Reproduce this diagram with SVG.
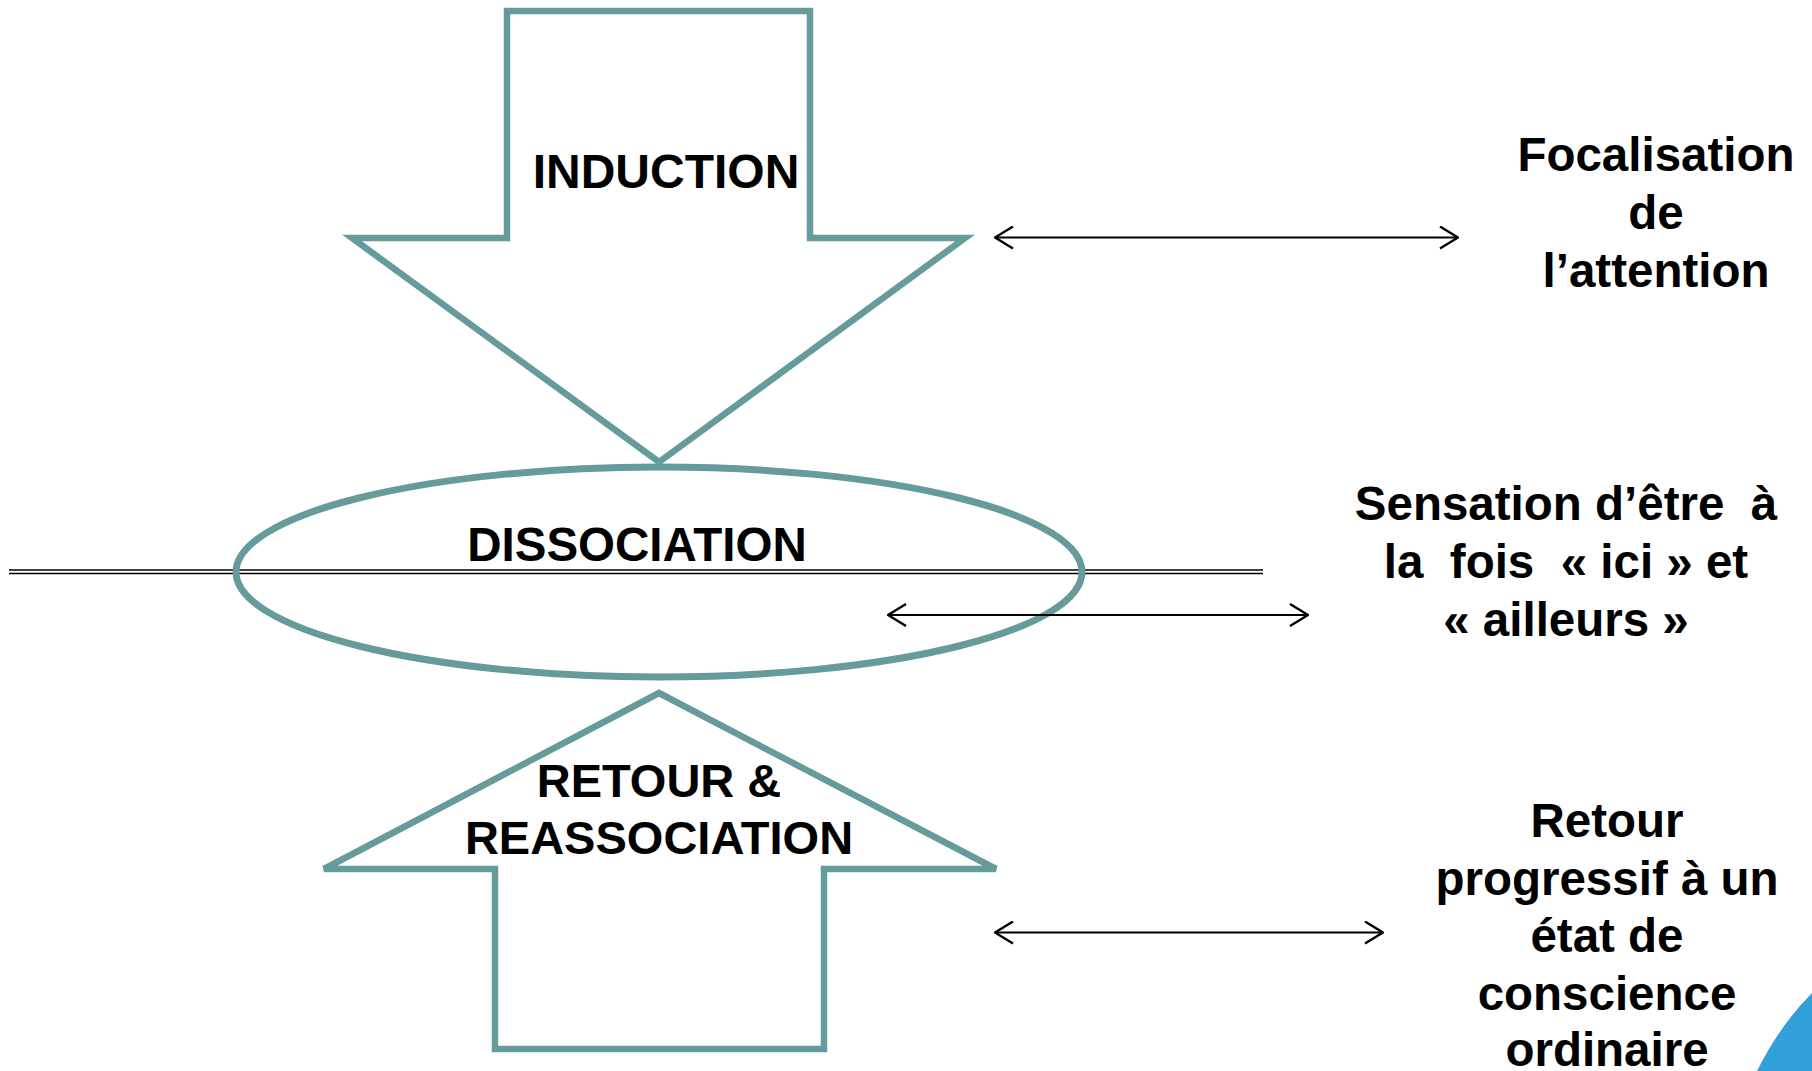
<svg xmlns="http://www.w3.org/2000/svg" width="1812" height="1071" viewBox="0 0 1812 1071">
<style>
.shape{fill:#fff;stroke:#669B9B;stroke-width:6.5;stroke-linejoin:miter}
.lbl{font-family:"Liberation Sans",Arial,sans-serif;font-weight:bold;font-size:47.5px;fill:#000;text-anchor:middle;white-space:pre}
.conn{stroke:#000;stroke-width:2.2;fill:none;marker-start:url(#head);marker-end:url(#head)}
</style>
<defs>
<marker id="head" viewBox="0 0 20 24" refX="19" refY="12" markerWidth="20" markerHeight="24" markerUnits="userSpaceOnUse" orient="auto-start-reverse">
<path d="M1,1 L19,12 L1,23" fill="none" stroke="#000" stroke-width="2.4"/>
</marker>
</defs>
<rect width="1812" height="1071" fill="#fff"/>
<g id="baseline">
<line x1="9" y1="570" x2="1263" y2="570" stroke="#000" stroke-width="1.7"/>
<line x1="9" y1="573.5" x2="1263" y2="573.5" stroke="#000" stroke-width="1.3"/>
</g>
<g id="induction">
<path class="shape" d="M507,11 L810,11 L810,238 L965,238 L659,462 L352,238 L507,238 Z"/>
<text class="lbl" x="666" y="188" style="font-size:48px">INDUCTION</text>
</g>
<g id="dissociation">
<ellipse cx="659" cy="572" rx="423" ry="105" fill="none" stroke="#669B9B" stroke-width="7"/>
<text class="lbl" x="637" y="561">DISSOCIATION</text>
</g>
<g id="retour">
<path class="shape" d="M659,693 L996,869 L824,869 L824,1049 L495,1049 L495,869 L324,869 Z"/>
<text class="lbl" x="659" y="797" style="font-size:47px">RETOUR &amp;</text>
<text class="lbl" x="659" y="854" style="font-size:47px">REASSOCIATION</text>
</g>
<g id="connectors">
<line class="conn" x1="995" y1="237.5" x2="1458" y2="237.5"/>
<line class="conn" x1="888" y1="615" x2="1308" y2="615"/>
<line class="conn" x1="995" y1="932.5" x2="1383" y2="932.5"/>
</g>
<g id="focalisation">
<text class="lbl" x="1656" y="171">Focalisation</text>
<text class="lbl" x="1656" y="229">de</text>
<text class="lbl" x="1656" y="287">l’attention</text>
</g>
<g id="sensation">
<text class="lbl" x="1566" y="520">Sensation d’être  à</text>
<text class="lbl" x="1566" y="578">la  fois  « ici » et</text>
<text class="lbl" x="1566" y="636">« ailleurs »</text>
</g>
<g id="retour-progressif">
<text class="lbl" x="1607" y="837">Retour</text>
<text class="lbl" x="1607" y="895">progressif à un</text>
<text class="lbl" x="1607" y="952">état de</text>
<text class="lbl" x="1607" y="1010">conscience</text>
<text class="lbl" x="1607" y="1066">ordinaire</text>
</g>
<path id="corner" d="M1757,1071 Q1780,1025 1812,993 L1812,1071 Z" fill="#31A0DA"/>
</svg>
